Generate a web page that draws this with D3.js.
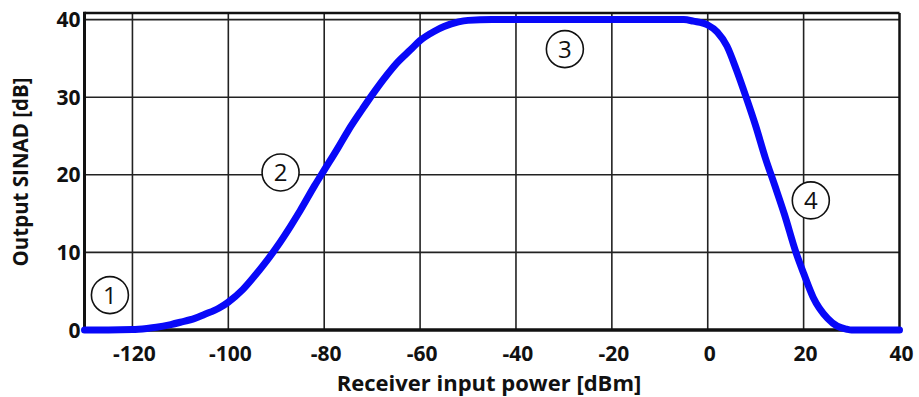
<!DOCTYPE html>
<html>
<head>
<meta charset="utf-8">
<script src="https://cdn.jsdelivr.net/npm/d3@7"></script>
<style>
  body { margin: 0; background: #fff; }
  text { font-family: "Open Sans", "DejaVu Sans", sans-serif; }
  .tick-label { font-weight: 700; font-size: 21px; fill: #111; }
  .axis-title { font-weight: 700; fill: #111; }
  .marker text { font-size: 24px; fill: #111; }
</style>
</head>
<body>
<div id="chart"></div>
<script>
// input power (dBm) and output SINAD (dB)
var powerIn = [-130, -125, -120, -117, -115, -112, -110, -107, -105, -102, -100,
  -97, -95, -92, -90, -87, -85, -82, -80, -77, -75, -72, -70, -67, -65, -62,
  -60, -57, -55, -52, -50, -45, -40, -30, -20, -10, -5, -3, 0, 2, 4, 6, 8,
  10, 12, 14, 16, 18.4, 20, 22, 25, 27, 29, 30, 35, 40];
var sinad = [0, 0, 0.05, 0.2, 0.35, 0.7, 1.0, 1.5, 2.0, 2.8, 3.6,
  5.2, 6.6, 8.9, 10.6, 13.4, 15.4, 18.6, 20.6, 23.6, 25.7, 28.5, 30.3, 32.8, 34.3, 36.1,
  37.3, 38.5, 39.1, 39.7, 39.9, 40, 40, 40, 40, 40, 40, 39.8, 39.3, 38.4, 36.6, 33.5, 30,
  26.3, 22.2, 18.6, 14.9, 10, 7.3, 4.2, 1.5, 0.5, 0.1, 0, 0, 0];

var xTicks = [-120, -100, -80, -60, -40, -20, 0, 20, 40];
var yTicks = [0, 10, 20, 30, 40];

// circled region numbers
var markerLabels = ["1", "2", "3", "4"];
var markerX = [-124.7, -89.1, -29.8, 21.5];
var markerY = [4.5, 20.3, 36.2, 16.7];

var W = 919, H = 397;
var plotL = 84.5, plotR = 899.5, plotT = 13, plotB = 330;

var svg = d3.select("#chart").append("svg")
    .attr("width", W)
    .attr("height", H);

var x = d3.scaleLinear().domain([-130, 40]).range([plotL, plotR]);
var y = d3.scaleLinear().domain([0, 40.85]).range([plotB, plotT]);

// grid
var grid = svg.append("g");
grid.selectAll("line.v")
  .data(xTicks.filter(function(d){ return d < 40; }))
  .enter().append("line")
    .attr("class", "v")
    .attr("x1", function(d){ return x(d); })
    .attr("x2", function(d){ return x(d); })
    .attr("y1", y(40.85))
    .attr("y2", y(0))
    .attr("stroke", "#222")
    .attr("stroke-width", 1.6);
grid.selectAll("line.h")
  .data(yTicks.filter(function(d){ return d > 0; }))
  .enter().append("line")
    .attr("class", "h")
    .attr("x1", x(-130))
    .attr("x2", x(40))
    .attr("y1", function(d){ return y(d); })
    .attr("y2", function(d){ return y(d); })
    .attr("stroke", "#222")
    .attr("stroke-width", 1.6);

// frame
svg.append("line")
  .attr("x1", x(-130)).attr("x2", x(40))
  .attr("y1", y(40.85)).attr("y2", y(40.85))
  .attr("stroke", "#111").attr("stroke-width", 2.5);
svg.append("line")
  .attr("x1", x(40)).attr("x2", x(40))
  .attr("y1", y(40.85)).attr("y2", y(0))
  .attr("stroke", "#111").attr("stroke-width", 2.5);
svg.append("line")
  .attr("x1", x(-130)).attr("x2", x(-130))
  .attr("y1", y(40.85) - 1.2).attr("y2", y(0))
  .attr("stroke", "#111").attr("stroke-width", 3);
svg.append("line")
  .attr("x1", x(-130)).attr("x2", x(40))
  .attr("y1", y(0)).attr("y2", y(0))
  .attr("stroke", "#111").attr("stroke-width", 3.5);

// tick labels
svg.append("g").selectAll("text")
  .data(xTicks)
  .enter().append("text")
    .classed("tick-label", true)
    .attr("text-anchor", "middle")
    .attr("x", function(d){ return x(d) + 2; })
    .attr("y", y(0) + 31)
    .text(function(d){ return d; });

svg.append("g").selectAll("text")
  .data(yTicks)
  .enter().append("text")
    .classed("tick-label", true)
    .attr("text-anchor", "end")
    .attr("x", plotL - 4)
    .attr("y", function(d){ return y(d) + 7.5; })
    .text(function(d){ return d; });

// curve
var pts = powerIn.map(function(p, i){ return [p, sinad[i]]; });
var line = d3.line()
  .x(function(d){ return x(d[0]); })
  .y(function(d){ return y(d[1]); })
  .curve(d3.curveMonotoneX);

svg.append("path")
  .datum(pts)
  .attr("d", line)
  .attr("fill", "none")
  .attr("stroke", "#0808f8")
  .attr("stroke-width", 7)
  .attr("stroke-linecap", "round")
  .attr("stroke-linejoin", "round");

// circled numbers
var mk = svg.append("g").selectAll("g")
  .data(markerLabels)
  .enter().append("g")
    .classed("marker", true)
    .attr("transform", function(d, i){
      return "translate(" + x(markerX[i]) + "," + y(markerY[i]) + ")";
    });
mk.append("circle")
  .attr("r", 18.5)
  .attr("fill", "#fff")
  .attr("stroke", "#111")
  .attr("stroke-width", 1.6);
mk.append("text")
  .attr("text-anchor", "middle")
  .attr("y", 9)
  .text(function(d){ return d; });

// axis titles
svg.append("text")
  .classed("axis-title", true)
  .style("font-size", "22px")
  .attr("text-anchor", "middle")
  .attr("x", 489)
  .attr("y", 391)
  .text("Receiver input power [dBm]");

svg.append("g")
  .attr("transform", "translate(28," + 172 + ")")
  .append("text")
  .classed("axis-title", true)
  .style("font-size", "20.5px")
  .attr("text-anchor", "middle")
  .attr("transform", "rotate(-90)")
  .text("Output SINAD [dB]");
</script>
</body>
</html>
